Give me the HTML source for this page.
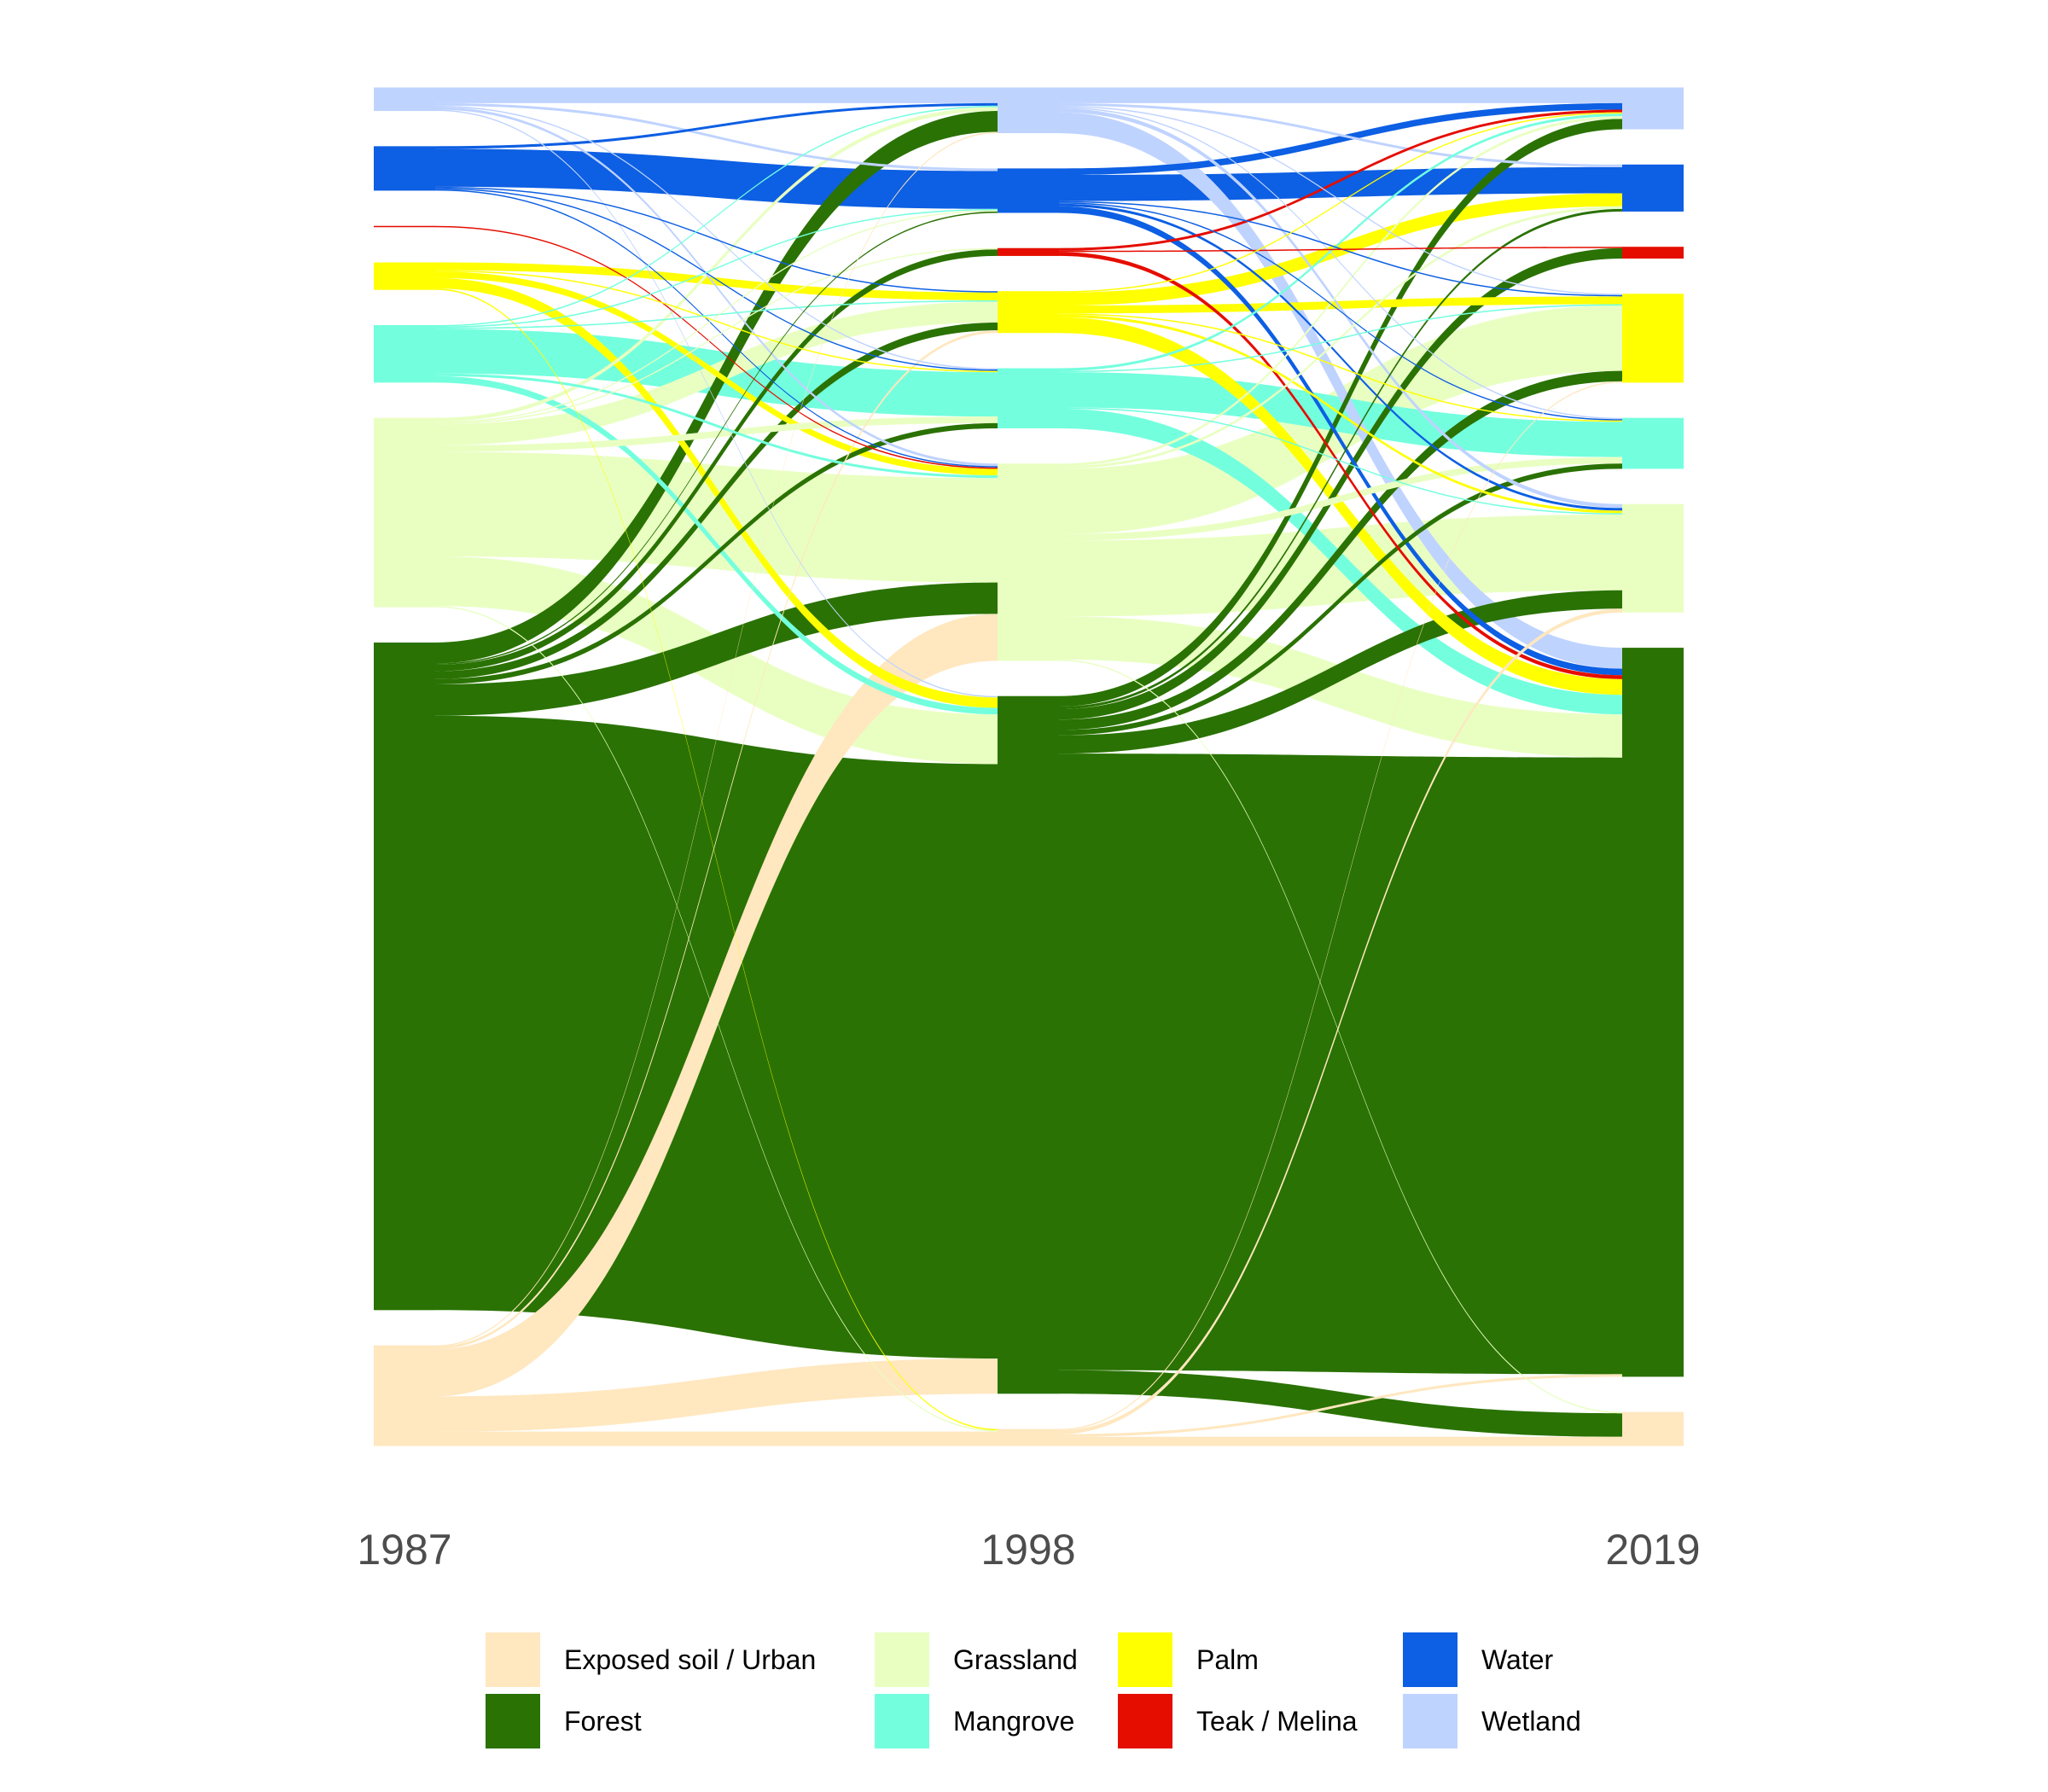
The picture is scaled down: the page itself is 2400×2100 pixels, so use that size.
<!DOCTYPE html>
<html>
<head>
<meta charset="utf-8">
<style>
  html,body{margin:0;padding:0;background:#fff;}
  svg{display:block;}
  text{font-family:"Liberation Sans",Arial,sans-serif;}
</style>
</head>
<body>
<svg id="chart" width="2400" height="2100" viewBox="0 0 2400 2100" xmlns="http://www.w3.org/2000/svg">
  <rect width="2400" height="2100" fill="#ffffff"/>
  <g id="flows"></g>
  <g id="nodes"></g>
  <g id="axis"></g>
  <g id="legend"></g>
</svg>
<script>
// ---- data ----
const categories = ["Wetland","Water","Teak / Melina","Palm","Mangrove","Grassland","Forest","Exposed soil / Urban"];
const years = ["1987","1998","2019"];
// flows 1987 -> 1998 (rows = source class, cols = target class)
const flows1987to1998 = [
  [12,2,0,0,1,2,1,0],
  [2,29,0,1,1,1,0,0],
  [0,0,0,0,0,1,0,0],
  [0,0,0,6,1,5,8,1],
  [1,1,0,1,34,2,5,0],
  [3,1,1,16,5,80,38,1],
  [16,1,5,6,4,24,455,0],
  [1,0,0,2,0,36,27,11]
];
// flows 1998 -> 2019
const flows1998to2019 = [
  [12,2,0,1,1,3,16,0],
  [5,20,0,1,1,2,5,0],
  [2,0,1,0,0,0,3,0],
  [1,10,0,6,1,2,12,0],
  [2,0,0,1,27,1,15,0],
  [2,2,0,50,5,58,33,1],
  [8,2,8,8,4,14,472,18],
  [0,0,0,1,0,3,2,7]
];
const colors = ["#BFD3FF","#0D5FE3","#E50D00","#FFFF00","#73FFDE","#E9FFC2","#2A7203","#FFE7BF"];
const legendOrder = ["Exposed soil / Urban","Forest","Grassland","Mangrove","Palm","Teak / Melina","Water","Wetland"];

// ---- layout ----
const NS="http://www.w3.org/2000/svg";
const topY=102.5, bottomY=1694.5, gapH=41.3, nodeW=72;
const colX=[438,1169,1901];
const matrices=[flows1987to1998,flows1998to2019];
const nCat=categories.length;
function sumArr(a){return a.reduce((s,v)=>s+v,0);}
const sizes=[];
sizes.push(flows1987to1998.map(r=>sumArr(r)));
sizes.push(categories.map((c,j)=>Math.max(sumArr(flows1987to1998.map(r=>r[j])), sumArr(flows1998to2019[j]))));
sizes.push(categories.map((c,j)=>sumArr(flows1998to2019.map(r=>r[j]))));
const totalV=Math.max(...sizes.map(sumArr));
const kScale=(bottomY-topY-gapH*(nCat-1))/totalV;
function nodeY(col){
  const ys=[];let y=topY;
  for(let i=0;i<nCat;i++){ys.push(y);y+=sizes[col][i]*kScale+gapH;}
  return ys;
}
const nodeYs=[nodeY(0),nodeY(1),nodeY(2)];
const flowsG=document.getElementById('flows');
const nodesG=document.getElementById('nodes');
function slug(s){return s.toLowerCase().replace(/[^a-z0-9]+/g,'-');}
const flowEls=[];
matrices.forEach((m,ci)=>{
  const x0=colX[ci]+nodeW, x1=colX[ci+1], xm=(x0+x1)/2;
  const inStart=[];
  for(let j=0;j<nCat;j++){inStart.push([]);let y=nodeYs[ci+1][j];for(let i=0;i<nCat;i++){inStart[j][i]=y;y+=m[i][j]*kScale;}}
  for(let i=0;i<nCat;i++){
    let y=nodeYs[ci][i];
    for(let j=0;j<nCat;j++){
      const v=m[i][j]; if(v<=0) continue;
      const h=v*kScale, ya=y, yb=inStart[j][i];
      y+=h;
      flowEls.push({h,ci,i,j,d:`M${x0},${ya} C${xm},${ya} ${xm},${yb} ${x1},${yb} L${x1},${yb+h} C${xm},${yb+h} ${xm},${ya+h} ${x0},${ya+h} Z`});
    }
  }
});
flowEls.sort((a,b)=>b.h-a.h);
flowEls.forEach(f=>{
  const p=document.createElementNS(NS,'path');
  p.setAttribute('d',f.d);
  p.setAttribute('fill',colors[f.i]);
  
  
  flowsG.appendChild(p);
});
for(let c=0;c<3;c++){
  for(let i=0;i<nCat;i++){
    const h=sizes[c][i]*kScale; if(h<=0) continue;
    const r=document.createElementNS(NS,'rect');
    r.setAttribute('x',colX[c]);r.setAttribute('y',nodeYs[c][i]);
    r.setAttribute('width',nodeW);r.setAttribute('height',Math.max(h,1.5));
    r.setAttribute('fill',colors[i]);
    
    
    nodesG.appendChild(r);
  }
}
const axisG=document.getElementById('axis');
years.forEach((yr,c)=>{
  const t=document.createElementNS(NS,'text');
  t.setAttribute('x',colX[c]+nodeW/2);t.setAttribute('y',1833);
  t.setAttribute('text-anchor','middle');t.setAttribute('font-size','50');t.setAttribute('fill','#4D4D4D');
  t.textContent=yr;
  
  
  axisG.appendChild(t);
});
const legG=document.getElementById('legend');
const keyX=[569,1025,1310,1644], rowY=[1913,1985];
legendOrder.forEach((name,idx)=>{
  const col=Math.floor(idx/2), row=idx%2;
  const ci=categories.indexOf(name);
  const r=document.createElementNS(NS,'rect');
  r.setAttribute('x',keyX[col]);r.setAttribute('y',rowY[row]);
  r.setAttribute('width',64);r.setAttribute('height',64);
  r.setAttribute('fill',colors[ci]);
  
  
  legG.appendChild(r);
  const t=document.createElementNS(NS,'text');
  t.setAttribute('x',keyX[col]+92);t.setAttribute('y',rowY[row]+43);
  t.setAttribute('font-size','32');t.setAttribute('fill','#000');
  t.textContent=name;
  
  
  legG.appendChild(t);
});
</script>
</body>
</html>
